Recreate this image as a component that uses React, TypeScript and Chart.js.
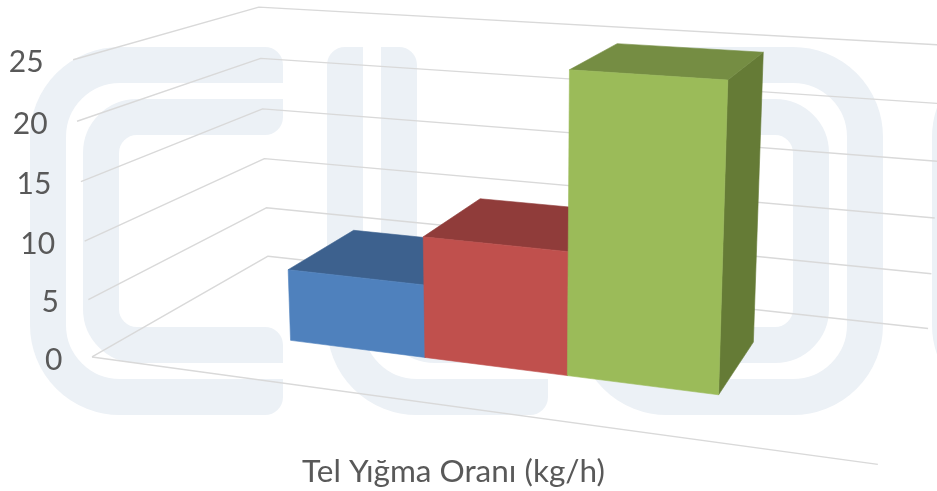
import React, { useEffect, useRef } from "react";
import { Chart, registerables } from "chart.js";

Chart.register(...registerables);

const categories = [""];
const seriesNames = ["Seri 1", "Seri 2", "Seri 3"];
const blueValues = [6.3];
const redValues = [10.4];
const greenValues = [25];
const frontColors = ["#4f81bd", "#c0504d", "#9bbb59"];
const topColors = ["#3d618e", "#903c3a", "#758d43"];
const sideColors = ["#34527a", "#7b3331", "#657b36"];
const tickStep = 5;
const axisMax = 25;
const axisTitle = "Tel Yığma Oranı (kg/h)";

// camera calibration: cube corner (x, depth, height) -> picture position
const cubeCorners: number[][] = [
  [0, 0, 0, 92, 357],
  [0, 1, 0, 268, 256],
  [1, 1, 0, 928, 329],
  [1, 0, 0, 878, 464],
  [0, 0, 1, 73, 60],
  [0, 1, 1, 259, 7],
  [1, 1, 1, 945, 45],
];
const barDepthFront = 0.3;
const barDepthBack = 0.72;

function solveCamera(pts: number[][]): number[] {
  const n = 11;
  const A: number[][] = Array.from({ length: n }, () => new Array(n + 1).fill(0));
  const add = (row: number[], rhs: number) => {
    for (let i = 0; i < n; i++) {
      for (let j = 0; j < n; j++) A[i][j] += row[i] * row[j];
      A[i][n] += row[i] * rhs;
    }
  };
  for (const [x, z, h, u, v] of pts) {
    add([x, z, h, 1, 0, 0, 0, 0, -u * x, -u * z, -u * h], u);
    add([0, 0, 0, 0, x, z, h, 1, -v * x, -v * z, -v * h], v);
  }
  for (let c = 0; c < n; c++) {
    let p = c;
    for (let r = c + 1; r < n; r++) if (Math.abs(A[r][c]) > Math.abs(A[p][c])) p = r;
    [A[c], A[p]] = [A[p], A[c]];
    for (let r = 0; r < n; r++) {
      if (r === c) continue;
      const f = A[r][c] / A[c][c];
      for (let k = c; k <= n; k++) A[r][k] -= f * A[c][k];
    }
  }
  return A.map((row, i) => row[n] / row[i]);
}
const M = solveCamera(cubeCorners);
function project(x: number, z: number, h: number): [number, number] {
  const w = M[8] * x + M[9] * z + M[10] * h + 1;
  return [
    (M[0] * x + M[1] * z + M[2] * h + M[3]) / w,
    (M[4] * x + M[5] * z + M[6] * h + M[7]) / w,
  ];
}

function poly(ctx: CanvasRenderingContext2D, pts: [number, number][], fill: string) {
  ctx.beginPath();
  pts.forEach((p, i) => (i ? ctx.lineTo(p[0], p[1]) : ctx.moveTo(p[0], p[1])));
  ctx.closePath();
  ctx.fillStyle = fill;
  ctx.fill();
  ctx.strokeStyle = fill;
  ctx.lineWidth = 0.6;
  ctx.stroke();
}

function roundPath(ctx: CanvasRenderingContext2D, pts: [number, number, number][]) {
  ctx.beginPath();
  ctx.moveTo(pts[0][0], pts[0][1]);
  for (let i = 1; i < pts.length - 1; i++) {
    ctx.arcTo(pts[i][0], pts[i][1], pts[i + 1][0], pts[i + 1][1], pts[i][2]);
  }
  const l = pts[pts.length - 1];
  ctx.lineTo(l[0], l[1]);
  ctx.stroke();
}

const watermark = {
  id: "watermark",
  beforeDraw(chart: any) {
    const ctx = chart.ctx as CanvasRenderingContext2D;
    ctx.save();
    ctx.fillStyle = "#ffffff";
    ctx.fillRect(0, 0, chart.width, chart.height);
    ctx.strokeStyle = "#ecf1f6";
    ctx.fillStyle = "#ecf1f6";
    ctx.lineWidth = 36;
    ctx.lineCap = "round";
    // C
    roundPath(ctx, [[265, 65, 0], [48, 65, 72], [48, 397, 72], [265, 397, 0]]);
    roundPath(ctx, [[265, 117, 0], [101, 117, 36], [101, 345, 36], [265, 345, 0]]);
    ctx.fillRect(265, 65, 18, 18);
    ctx.fillRect(265, 99, 18, 18);
    ctx.fillRect(265, 345, 18, 18);
    ctx.fillRect(265, 379, 18, 18);
    // L
    roundPath(ctx, [[345, 65, 0], [345, 397, 72], [530, 397, 0]]);
    roundPath(ctx, [[399, 65, 0], [399, 345, 36], [530, 345, 0]]);
    ctx.fillRect(345, 47, 18, 18);
    ctx.fillRect(381, 47, 18, 18);
    ctx.fillRect(530, 345, 18, 18);
    ctx.fillRect(530, 379, 18, 18);
    // O
    roundPath(ctx, [[730, 65, 0], [865, 65, 72], [865, 397, 72], [595, 397, 72], [595, 65, 72], [730, 65, 0]]);
    roundPath(ctx, [[730, 117, 0], [811, 117, 36], [811, 345, 36], [649, 345, 36], [649, 117, 36], [730, 117, 0]]);
    // next letter
    roundPath(ctx, [[1100, 65, 0], [950, 65, 72], [950, 397, 72], [1100, 397, 0]]);
    ctx.restore();

    // tick labels follow the slanted left wall edge
    const s = chart.scales.y;
    s.getLabelItems().forEach((it: any, i: number) => {
      const h = (s.ticks[i].value - s.min) / (s.max - s.min);
      const [x, y] = project(0, 0, h);
      it.options.translation = [x - 29.5, y + 3];
    });
  },
};

const bars3d = {
  id: "bars3d",
  beforeDatasetsDraw(chart: any) {
    const ctx = chart.ctx as CanvasRenderingContext2D;
    const area = chart.chartArea;
    const s = chart.scales.y;
    ctx.save();
    // walls and floor
    ctx.strokeStyle = "#d9d9d9";
    ctx.lineWidth = 1.4;
    ctx.lineJoin = "round";
    s.ticks.forEach((t: any) => {
      const h = (t.value - s.min) / (s.max - s.min);
      const pts = [project(0, 0, h), project(0, 1, h), project(1, 1, h)];
      ctx.beginPath();
      pts.forEach((p, i) => (i ? ctx.lineTo(p[0], p[1]) : ctx.moveTo(p[0], p[1])));
      ctx.stroke();
    });
    const a = project(0, 0, 0);
    const b = project(1, 0, 0);
    ctx.beginPath();
    ctx.moveTo(a[0], a[1]);
    ctx.lineTo(b[0], b[1]);
    ctx.stroke();

    // boxes, back to front from left to right
    chart.data.datasets.forEach((ds: any, di: number) => {
      const el = chart.getDatasetMeta(di).data[0];
      const p = el.getProps(["x", "y", "width"], true);
      const x0 = (p.x - p.width / 2 - area.left) / (area.right - area.left);
      const x1 = (p.x + p.width / 2 - area.left) / (area.right - area.left);
      const h = (area.bottom - p.y) / (area.bottom - area.top);
      const z0 = barDepthFront;
      const z1 = barDepthBack;
      poly(ctx, [project(x1, z0, 0), project(x1, z1, 0), project(x1, z1, h), project(x1, z0, h)], sideColors[di]);
      poly(ctx, [project(x0, z0, h), project(x1, z0, h), project(x1, z1, h), project(x0, z1, h)], topColors[di]);
      poly(ctx, [project(x0, z0, 0), project(x1, z0, 0), project(x1, z0, h), project(x0, z0, h)], ds.backgroundColor);
    });
    ctx.restore();
  },
  beforeDatasetDraw() {
    return false;
  },
};

export default function App() {
  const ref = useRef<HTMLCanvasElement>(null);
  useEffect(() => {
    const chart = new Chart(ref.current as HTMLCanvasElement, {
      type: "bar",
      data: {
        labels: categories,
        datasets: [
          { label: seriesNames[0], data: blueValues, backgroundColor: frontColors[0] },
          { label: seriesNames[1], data: redValues, backgroundColor: frontColors[1] },
          { label: seriesNames[2], data: greenValues, backgroundColor: frontColors[2] },
        ],
      },
      plugins: [watermark, bars3d],
      options: {
        responsive: false,
        animation: false,
        categoryPercentage: 3 / 5.19,
        barPercentage: 1,
        layout: { padding: { top: 62, right: 100, left: 0, bottom: 0 } },
        plugins: { legend: { display: false }, title: { display: false }, tooltip: { enabled: false } },
        scales: {
          x: {
            grid: { display: false },
            border: { display: false },
            ticks: { display: false },
            title: {
              display: true,
              text: axisTitle,
              color: "#595959",
              font: { family: "Lato", size: 31.5 },
              padding: { top: 96, bottom: 0 },
            },
          },
          y: {
            min: 0,
            max: axisMax,
            afterFit: (s: any) => {
              s.width = 70;
            },
            grid: { display: false },
            border: { display: false },
            ticks: {
              stepSize: tickStep,
              color: "#595959",
              font: { family: "Lato", size: 30 },
            },
          },
        },
      } as any,
    });
    return () => chart.destroy();
  }, []);
  return (
    <div style={{ position: "absolute", left: 0, top: 0, width: 937, height: 491, overflow: "hidden" }}>
      <canvas ref={ref} width={937} height={491} style={{ display: "block", filter: "blur(0.5px)" }} />
    </div>
  );
}
